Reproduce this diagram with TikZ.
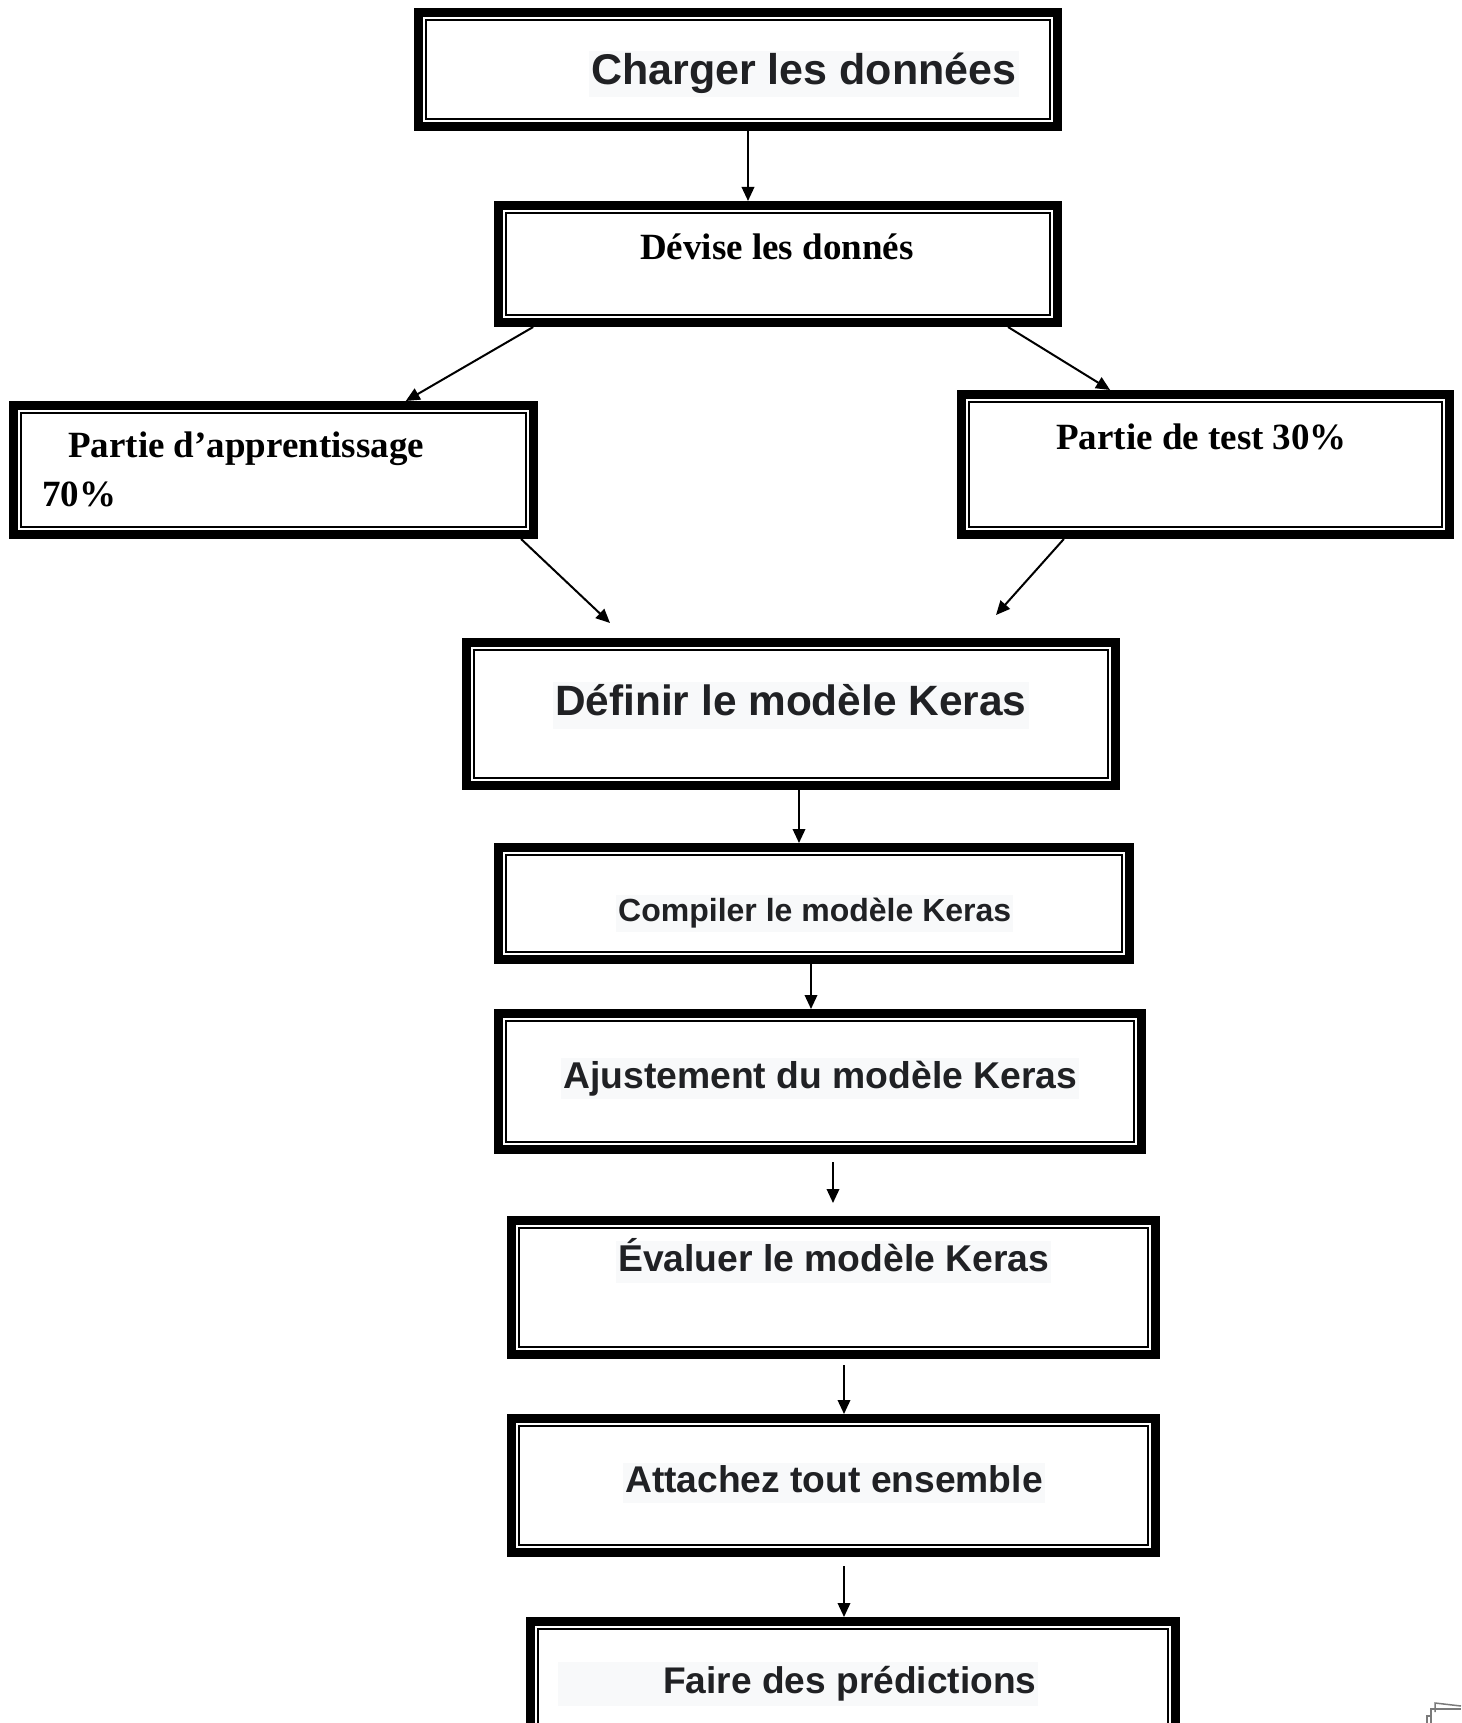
\documentclass[tikz,border=0pt]{standalone}
\usepackage{fontspec}
\setmainfont{Liberation Serif}
\newfontfamily\arialfont{Liberation Sans}
\usetikzlibrary{arrows.meta,calc}
\definecolor{hlgray}{HTML}{F8F9FA}
\definecolor{inkgray}{HTML}{202124}
\definecolor{icongray}{HTML}{7A7A7A}

\begin{document}
\begin{tikzpicture}[x=1pt,y=-1pt,
  frame/.style={draw, line width=9pt, inner sep=0pt, fill=white},
  arr/.style={line width=2pt, -{Triangle[length=14pt,width=12.5pt]}},
  hl/.style n args={4}{anchor=west, fill=hlgray, text=inkgray, inner xsep=2pt, inner ysep=0pt,
    font=\arialfont\bfseries\fontsize{#1pt}{#1pt}\selectfont,
    minimum height=#2pt, text height=#3pt, text depth=#4pt},
  serif/.style={anchor=west, inner sep=0pt, font=\bfseries\fontsize{37pt}{49pt}\selectfont},
]
\clip (0,0) rectangle (1461,1723);
\fill[white] (0,0) rectangle (1461,1723);

% boxes (outer thick frame); anchors lie on the outer edge of the frame
\node[frame, minimum width=639pt, minimum height=114pt] (charger)  at (738,69.5) {};
\node[frame, minimum width=559pt, minimum height=117pt] (devise)   at (778,264) {};
\node[frame, minimum width=520pt, minimum height=129pt] (app)      at (273.5,470) {};
\node[frame, minimum width=488pt, minimum height=140pt] (test)     at (1205.5,464.5) {};
\node[frame, minimum width=649pt, minimum height=143pt] (definir)  at (791,714) {};
\node[frame, minimum width=631pt, minimum height=112pt] (compiler) at (814,903.5) {};
\node[frame, minimum width=643pt, minimum height=136pt] (ajust)    at (820,1081.5) {};
\node[frame, minimum width=644pt, minimum height=134pt] (evaluer)  at (833.5,1287.5) {};
\node[frame, minimum width=644pt, minimum height=134pt] (attach)   at (833.5,1485.5) {};
\node[frame, minimum width=645pt, minimum height=134pt] (faire)    at (853,1688.5) {};

% thin inner frame of every box
\foreach \bx in {charger,devise,app,test,definir,compiler,ajust,evaluer,attach,faire}
  \draw[line width=2.3pt] ([xshift=11.7pt,yshift=-11.7pt]\bx.north west) rectangle ([xshift=-11.7pt,yshift=11.7pt]\bx.south east);

% labels
\node[hl={43}{46}{31}{9}] (tcharger) at (589,74) {Charger les données};
\node[serif] (tdevise) at (640,247) {Dévise les donnés};
\node[serif, align=left] (tapp) at (42,469.5) {\hspace*{26pt}Partie d’apprentissage\\70\%};
\node[serif] (ttest) at (1056,437) {Partie de test 30\%};
\node[hl={42.4}{47}{30.5}{9}] (tdefinir) at (553,705) {Définir le modèle Keras};
\node[hl={32}{37}{23}{7}] (tcompiler) at (616,913.5) {Compiler le modèle Keras};
\node[hl={37.3}{41}{27}{8}] (tajust) at (561,1078.5) {Ajustement du modèle Keras};
\node[hl={37.3}{42}{27}{8}] (tevaluer) at (616,1262) {Évaluer le modèle Keras};
\node[hl={37.2}{40}{27}{8}] (tattach) at (623,1483) {Attachez tout ensemble};
\node[hl={37.1}{44}{27}{8}] (tfaire) at (558,1684) {\hspace*{103pt}Faire des prédictions};

% connectors
\coordinate (x1) at (748,0);
\coordinate (x2) at (799,0);
\coordinate (x3) at (811,0);
\coordinate (x4) at (833,0);
\coordinate (x5) at (844,0);
\coordinate (append) at (610,623);
\coordinate (testend) at (996,615);

\draw[arr] (charger.south -| x1) -- (devise.north -| x1);
\draw[arr] ($(devise.south west)!0.069!(devise.south east)$) -- ($(app.north west)!0.75!(app.north east)$);
\draw[arr] ($(devise.south west)!0.905!(devise.south east)$) -- ($(test.north west)!0.308!(test.north east)$);
\draw[arr] ($(app.south west)!0.968!(app.south east)$) -- (append);
\draw[arr] ($(test.south west)!0.215!(test.south east)$) -- (testend);
\draw[arr] (definir.south -| x2) -- (compiler.north -| x2);
\draw[arr] (compiler.south -| x3) -- (ajust.north -| x3);
\draw[arr, shorten <=8pt, shorten >=13pt] (ajust.south -| x4) -- (evaluer.north -| x4);
\draw[arr, shorten <=6pt] (evaluer.south -| x5) -- (attach.north -| x5);
\draw[arr, shorten <=9pt] (attach.south -| x5) -- (faire.north -| x5);

% small page icon in the corner
\draw[icongray, line width=1.5pt] (1435,1712) -- (1435,1703) -- (1461,1706);
\draw[icongray, line width=1.5pt] (1431,1723) -- (1431,1709) -- (1461,1709);
\draw[icongray, line width=1.5pt] (1427,1723) -- (1427,1716) -- (1431,1716);
\end{tikzpicture}
\end{document}
